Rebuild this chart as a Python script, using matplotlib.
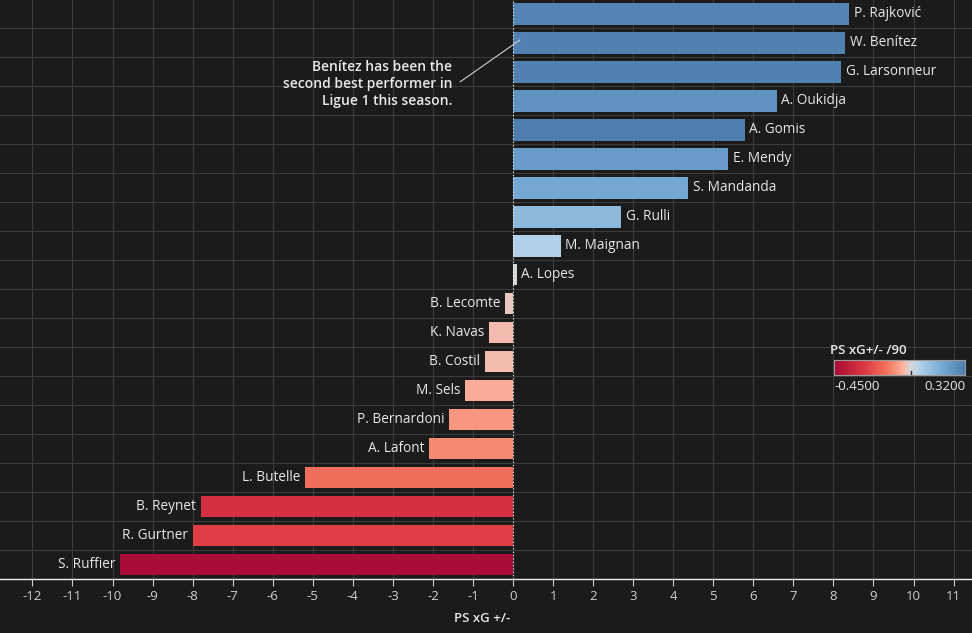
import numpy as np
import matplotlib
matplotlib.use("Agg")
from matplotlib import pyplot as plt
from matplotlib.colors import LinearSegmentedColormap, Normalize

players = ["P. Rajković", "W. Benítez", "G. Larsonneur", "A. Oukidja", "A. Gomis",
           "E. Mendy", "S. Mandanda", "G. Rulli", "M. Maignan", "A. Lopes",
           "B. Lecomte", "K. Navas", "B. Costil", "M. Sels", "P. Bernardoni",
           "A. Lafont", "L. Butelle", "B. Reynet", "R. Gurtner", "S. Ruffier"]
ps_xg = [8.40, 8.30, 8.20, 6.58, 5.78, 5.38, 4.38, 2.69, 1.19, 0.09,
         -0.20, -0.60, -0.70, -1.20, -1.60, -2.10, -5.19, -7.79, -7.99, -9.81]
ps_xg_90 = [0.30, 0.31, 0.31, 0.26, 0.32, 0.23, 0.19, 0.135, 0.055, 0.005,
            -0.02, -0.035, -0.035, -0.055, -0.09, -0.11, -0.16, -0.30, -0.26, -0.45]
xticks = list(range(-12, 12))

BG = "#1b1b1b"
TXT = "#e8e8e8"
plt.rcParams["font.family"] = ["Open Sans", "DejaVu Sans"]

cmap = LinearSegmentedColormap.from_list("rdbu_tab", [
    (0.00, "#a90c38"), (0.20, "#dc3843"), (0.35, "#f47a60"), (0.45, "#fcb2a0"),
    (0.50, "#d8d8d8"), (0.55, "#b6d4e9"), (0.70, "#78acd5"), (0.85, "#4f80b0"),
    (1.00, "#2e5a87")])
norm = Normalize(-0.45, 0.45)

fig = plt.figure(figsize=(9.72, 6.33), dpi=100, facecolor=BG)
ax = fig.add_axes([0, 1 - 579 / 633, 1, 579 / 633])
ax.set_facecolor(BG)

y = np.arange(len(players))
colors = [cmap(norm(v)) for v in ps_xg_90]
ax.barh(y, ps_xg, height=0.74, color=colors, zorder=2)

for yi, val, name in zip(y, ps_xg, players):
    if val >= 0:
        ax.text(val + 0.12, yi, name, va="center", ha="left", color=TXT, fontsize=9.8)
    else:
        ax.text(val - 0.12, yi, name, va="center", ha="right", color=TXT, fontsize=9.8)

ax.set_xlim(-12.81, 11.46)
ax.set_ylim(19.48, -0.483)
ax.set_xticks(xticks)
ax.set_xticklabels([str(t) for t in xticks], color="#cfcfcf", fontsize=9.5)
ax.set_yticks(y + 0.5, minor=True)
ax.set_yticks([])
ax.grid(axis="x", color="#3c3c3c", lw=0.8, zorder=0)
ax.grid(axis="y", which="minor", color="#3c3c3c", lw=0.8, zorder=0)
ax.tick_params(axis="x", colors="#cfcfcf", length=5, width=0.8, pad=3)
ax.tick_params(axis="y", which="both", length=0)
for s in ["top", "left", "right"]:
    ax.spines[s].set_visible(False)
ax.spines["bottom"].set_color("#f0f0f0")
ax.spines["bottom"].set_linewidth(1.0)
ax.axvline(0, color="#f0f0f0", lw=0.8, ls=(0, (1, 2)), zorder=3)

fig.text(510 / 972, 1 - 619 / 633, "PS xG +/-", ha="right", va="center",
         color=TXT, fontsize=9.5, fontweight="semibold")

# annotation
ax.text(-1.52, 2.41, "Benítez has been the\nsecond best performer in\nLigue 1 this season.",
        ha="right", va="center", color=TXT, fontsize=10, fontweight="semibold",
        linespacing=1.25)
ax.plot([-1.32, 0.17], [2.34, 0.9], color="#d0d0d0", lw=0.8, zorder=4)

# colour legend
cax = fig.add_axes([834 / 972, 1 - 375 / 633, 131 / 972, 15 / 633])
grad = np.linspace(-0.45, 0.32, 256).reshape(1, -1)
cax.imshow(grad, aspect="auto", cmap=cmap, norm=norm, extent=[-0.45, 0.32, 0, 1])
cax.set_xticks([])
cax.set_yticks([])
for s in cax.spines.values():
    s.set_color("#9a9a9a")
    s.set_linewidth(0.8)
cax.plot([0, 0], [0, 0.25], color="#222222", lw=1)
cax.set_xlim(-0.45, 0.32)
cax.set_ylim(0, 1)
fig.text(830 / 972, 1 - 350 / 633, "PS xG+/- /90", ha="left", va="center",
         color=TXT, fontsize=9.5, fontweight="semibold")
fig.text(834 / 972, 1 - 386 / 633, "-0.4500", ha="left", va="center", color=TXT, fontsize=9.5)
fig.text(965 / 972, 1 - 386 / 633, "0.3200", ha="right", va="center", color=TXT, fontsize=9.5)

fig.savefig("out.png", dpi=100, facecolor=BG)
